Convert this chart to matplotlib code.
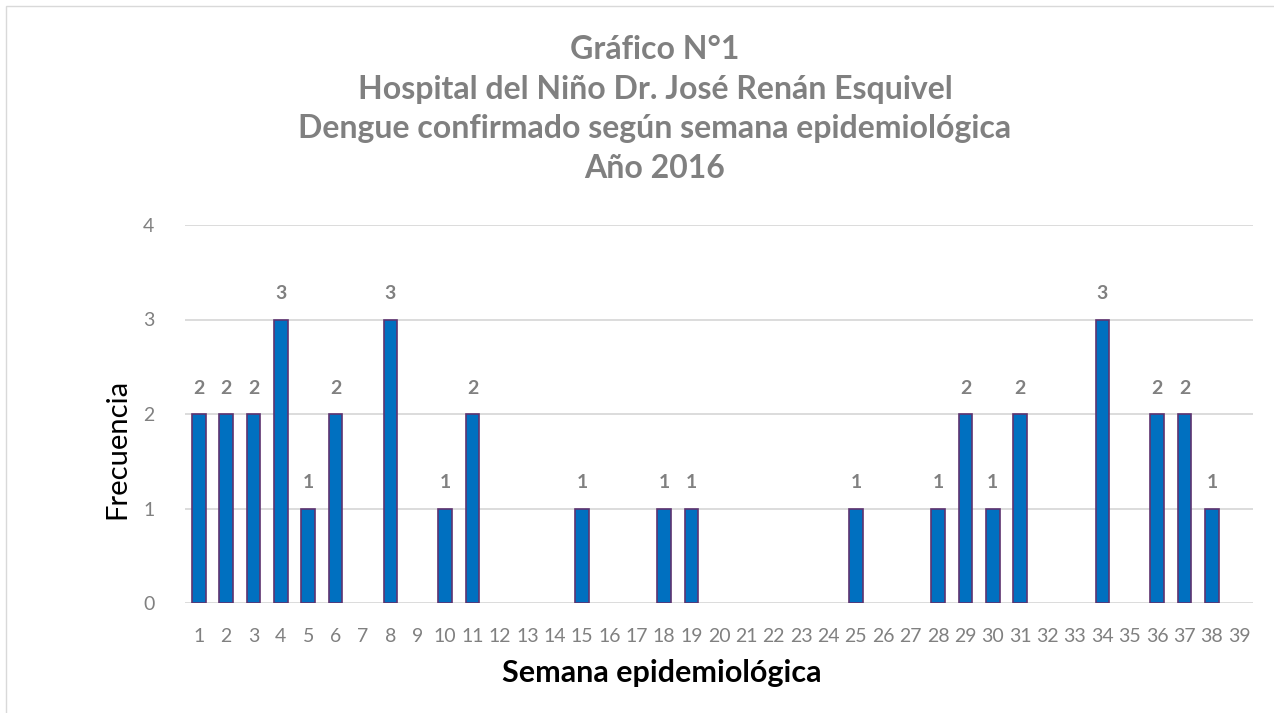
import matplotlib.pyplot as plt
from matplotlib.patches import Rectangle

# semana epidemiologica y frecuencia de casos
semanas = [str(s) for s in range(1, 40)]
casos = [2, 2, 2, 3, 1, 2, 0, 3, 0, 1,
         2, 0, 0, 0, 1, 0, 0, 1, 1, 0,
         0, 0, 0, 0, 1, 0, 0, 1, 2, 1,
         2, 0, 0, 3, 0, 2, 2, 1, 0]
yticks = [0, 1, 2, 3, 4]

titulo = ('Gráfico N°1\nHospital del Niño Dr. José Renán Esquivel\n'
          'Dengue confirmado según semana epidemiológica\nAño 2016')

gris = '#808080'
plt.rcParams['font.family'] = ['Lato', 'DejaVu Sans']

fig = plt.figure(figsize=(12.74, 7.13), dpi=100)
ax = fig.add_axes([185 / 1274, 1 - 603 / 713, (1253 - 185) / 1274, (603 - 225) / 713])

x = list(range(len(semanas)))
bars = ax.bar(x, casos, width=0.5, color='#0070C0', edgecolor='#5E3370',
              linewidth=1.2, zorder=3)
# sin borde para las semanas sin casos
for b, v in zip(bars, casos):
    if v == 0:
        b.set_linewidth(0)

for xi, v in zip(x, casos):
    if v > 0:
        ax.text(xi, v + 0.18, str(v), ha='center', va='bottom', fontsize=14,
                fontweight='bold', color=gris)

ax.set_xlim(-0.5, len(semanas) - 0.5)
ax.set_ylim(0, 4)
ax.set_yticks(yticks)
ax.set_xticks(x)
ax.set_xticklabels(semanas)
ax.tick_params(axis='both', length=0, labelsize=14, labelcolor=gris)
ax.tick_params(axis='x', pad=18)
ax.tick_params(axis='y', pad=22)
ax.grid(axis='y', color='#D9D9D9', linewidth=1.3, zorder=0)
for s in ax.spines.values():
    s.set_visible(False)

ax.set_ylabel('Frecuencia', fontsize=21, color='black')
ax.yaxis.set_label_coords(-0.051, 0.407)
ax.set_xlabel('Semana epidemiológica', fontsize=22, fontweight='bold',
              color='black')
ax.xaxis.set_label_coords(0.446, -0.148)

fig.text(655 / 1274, 1 - 109 / 713, titulo,
         ha='center', va='center', fontsize=23, fontweight='bold', color=gris,
         linespacing=1.45)

fig.patches.append(Rectangle((6 / 1274, -0.01), 1.0, 1 - 6 / 713 + 0.01,
                             transform=fig.transFigure, fill=False,
                             edgecolor='#D9D9D9', linewidth=1))

fig.savefig('out.png', dpi=100)
